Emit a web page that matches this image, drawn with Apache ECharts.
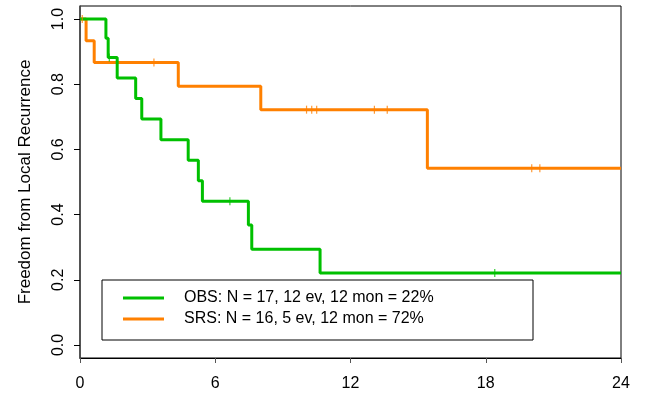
<!DOCTYPE html>
<html>
<head>
<meta charset="utf-8">
<script src="https://cdn.jsdelivr.net/npm/echarts@6/dist/echarts.min.js"></script>
<style>
  html, body { margin: 0; padding: 0; background: #fff; }
  #chart { width: 659px; height: 398px; }
</style>
</head>
<body>
<div id="chart"></div>
<script>
// OBS arm: step times (months) and survival level after each step
var obsTimes = [0, 1.15, 1.25, 1.65, 2.47, 2.74, 3.59, 4.8, 5.25, 5.43, 7.47, 7.62, 10.65, 24]
var obsSurv = [1, 0.941, 0.882, 0.819, 0.756, 0.693, 0.630, 0.567, 0.504, 0.441, 0.368, 0.294, 0.221, 0.221]
var obsCensor = [1.3, 6.65, 18.4]

// SRS arm
var srsTimes = [0, 0.27, 0.63, 4.36, 8.02, 15.41, 24]
var srsSurv = [1, 0.933, 0.867, 0.794, 0.722, 0.542, 0.542]
var srsCensor = [0.1, 3.28, 10.05, 10.28, 10.5, 13.06, 13.63, 20.04, 20.4]

var xTicks = [0, 6, 12, 18, 24]
var yTicks = [0, 0.2, 0.4, 0.6, 0.8, 1.0]

var legendNames = ['OBS: N = 17, 12 ev, 12 mon = 22%', 'SRS: N = 16, 5 ev, 12 mon = 72%']
var green = '#00c000'
var orange = '#ff8000'

function pairs(ts, vs) {
  return ts.map(function(t, i) { return [t, vs[i]] })
}

// survival level at time t, read from the step arrays
function levelAt(ts, vs, t) {
  var v = vs[0]
  for (var i = 0; i < ts.length; i++) {
    if (ts[i] <= t) v = vs[i]
  }
  return v
}

function censorPoints(ts, vs, cs) {
  return cs.map(function(t) { return [t, levelAt(ts, vs, t)] })
}

var chart = echarts.init(document.getElementById('chart'))
var font = 'Liberation Sans, Arial, sans-serif'

chart.setOption({
  animation: false,
  grid: {
    left: 80,
    right: 38,
    top: 6,
    bottom: 40,
    show: true,
    borderColor: '#000',
    borderWidth: 1
  },
  xAxis: {
    type: 'value',
    min: 0,
    max: 24,
    interval: 6,
    splitLine: { show: false },
    axisLine: { show: true, onZero: false, lineStyle: { color: '#000' } },
    axisTick: { show: true, inside: false, length: 5, lineStyle: { color: '#555' } },
    axisLabel: {
      margin: 18,
      color: '#000',
      fontSize: 16,
      fontFamily: font,
      customValues: xTicks
    }
  },
  yAxis: {
    type: 'value',
    min: -0.04,
    max: 1.04,
    name: 'Freedom from Local Recurrence',
    nameLocation: 'middle',
    nameRotate: 90,
    nameGap: 46,
    nameTextStyle: { color: '#000', fontSize: 17, fontFamily: font },
    splitLine: { show: false },
    axisLine: { show: true, onZero: false, lineStyle: { color: '#444', width: 1.5 } },
    axisTick: { show: true, inside: false, length: 6, customValues: yTicks, lineStyle: { color: '#000' } },
    axisLabel: {
      rotate: 90,
      margin: 13,
      color: '#000',
      fontSize: 16,
      fontFamily: font,
      customValues: yTicks,
      formatter: function(v) { return v.toFixed(1) }
    }
  },
  legend: {
    orient: 'vertical',
    left: 102,
    top: 280,
    padding: [10, 19, 13, 21],
    itemWidth: 41,
    itemHeight: 3,
    itemGap: 5,
    icon: 'rect',
    borderColor: '#000',
    borderWidth: 1,
    backgroundColor: '#fff',
    textStyle: {
      fontSize: 16,
      fontFamily: font,
      color: '#000',
      lineHeight: 14,
      width: 330,
      padding: [0, 0, 0, 15]
    },
    data: legendNames
  },
  series: [
    {
      name: legendNames[0],
      type: 'line',
      step: 'end',
      showSymbol: false,
      color: green,
      lineStyle: { color: green, width: 3 },
      data: pairs(obsTimes, obsSurv),
      z: 3
    },
    {
      name: legendNames[1],
      type: 'line',
      step: 'end',
      showSymbol: false,
      color: orange,
      lineStyle: { color: orange, width: 3 },
      data: pairs(srsTimes, srsSurv),
      z: 2
    },
    {
      name: 'obs-censor',
      type: 'scatter',
      symbol: 'rect',
      symbolSize: [1.2, 8],
      itemStyle: { color: green },
      data: censorPoints(obsTimes, obsSurv, obsCensor),
      z: 4
    },
    {
      name: 'srs-censor',
      type: 'scatter',
      symbol: 'rect',
      symbolSize: [1.2, 8],
      itemStyle: { color: orange },
      data: censorPoints(srsTimes, srsSurv, srsCensor),
      z: 4
    }
  ]
})
</script>
</body>
</html>
